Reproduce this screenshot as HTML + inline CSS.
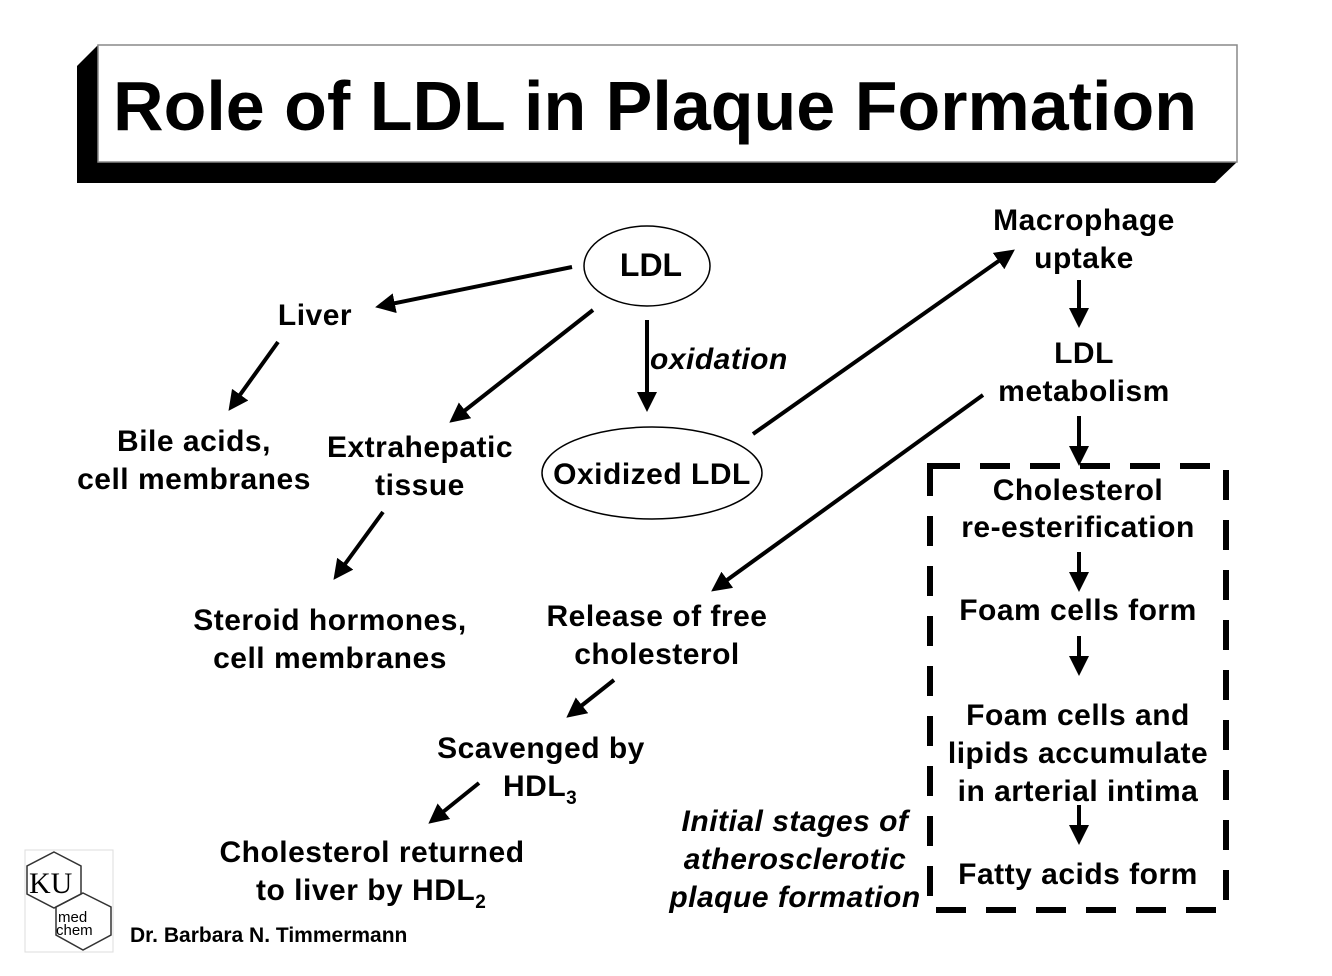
<!DOCTYPE html>
<html><head><meta charset="utf-8"><style>
html,body{margin:0;padding:0;background:#fff;}
svg{display:block;}
text{font-family:"Liberation Sans",Arial,sans-serif;font-weight:bold;fill:#000;}
</style></head><body>
<svg width="1332" height="976" viewBox="0 0 1332 976" xmlns="http://www.w3.org/2000/svg">
<defs>
<marker id="ah" markerWidth="5" markerHeight="5" refX="3.5" refY="2.5" orient="auto" markerUnits="strokeWidth">
<path d="M0,0 L5,2.5 L0,5 z" fill="#000"/>
</marker>
</defs>
<polygon points="98,45 77,66 77,183 1215,183 1237,162 98,162" fill="#000"/>
<rect x="98" y="45" width="1139" height="117" fill="#fff" stroke="#888" stroke-width="1.5"/>
<text x="113" y="130" font-size="70" textLength="1084" lengthAdjust="spacingAndGlyphs">Role of LDL in Plaque Formation</text>

<ellipse cx="647" cy="266" rx="63" ry="40" fill="none" stroke="#000" stroke-width="1.5"/>
<text x="651" y="276" font-size="32" text-anchor="middle">LDL</text>
<ellipse cx="652" cy="473" rx="110" ry="46" fill="none" stroke="#000" stroke-width="1.5"/>
<text x="652" y="484" font-size="30" text-anchor="middle" letter-spacing="0.5">Oxidized LDL</text>

<g font-size="30" text-anchor="middle" letter-spacing="0.5">
<text x="315" y="325">Liver</text>
<text x="194" y="451">Bile acids,</text>
<text x="194" y="489">cell membranes</text>
<text x="420" y="457">Extrahepatic</text>
<text x="420" y="495">tissue</text>
<text x="1084" y="230">Macrophage</text>
<text x="1084" y="268">uptake</text>
<text x="1084" y="363">LDL</text>
<text x="1084" y="401">metabolism</text>
<text x="1078" y="500">Cholesterol</text>
<text x="1078" y="537">re-esterification</text>
<text x="1078" y="620">Foam cells form</text>
<text x="1078" y="725">Foam cells and</text>
<text x="1078" y="763">lipids accumulate</text>
<text x="1078" y="801">in arterial intima</text>
<text x="1078" y="884">Fatty acids form</text>
<text x="330" y="630">Steroid hormones,</text>
<text x="330" y="668">cell membranes</text>
<text x="657" y="626">Release of free</text>
<text x="657" y="664">cholesterol</text>
<text x="541" y="758">Scavenged by</text>
<text x="372" y="862">Cholesterol returned</text>
</g>
<text x="503" y="796" font-size="30" letter-spacing="0.5">HDL<tspan font-size="19" dy="8">3</tspan></text>
<text x="256" y="900" font-size="30" letter-spacing="0.5">to liver by HDL<tspan font-size="19" dy="8">2</tspan></text>
<g font-size="30" text-anchor="middle" font-style="italic" letter-spacing="0.5">
<text x="795" y="831">Initial stages of</text>
<text x="795" y="869">atherosclerotic</text>
<text x="795" y="907">plaque formation</text>
</g>
<text x="650" y="369" font-size="30" font-style="italic" letter-spacing="0.5">oxidation</text>

<rect x="930" y="466" width="296" height="444" fill="none" stroke="#000" stroke-width="6" stroke-dasharray="30,20"/>

<g stroke="#000" stroke-width="4" marker-end="url(#ah)">
<line x1="572" y1="267" x2="381" y2="306"/>
<line x1="278" y1="342" x2="232" y2="406"/>
<line x1="593" y1="310" x2="454" y2="419"/>
<line x1="647" y1="320" x2="647" y2="406"/>
<line x1="753" y1="434" x2="1010" y2="253"/>
<line x1="1079" y1="280" x2="1079" y2="322"/>
<line x1="983" y1="395" x2="716" y2="588"/>
<line x1="1079" y1="416" x2="1079" y2="460"/>
<line x1="383" y1="512" x2="337" y2="575"/>
<line x1="1079" y1="552" x2="1079" y2="586"/>
<line x1="1079" y1="636" x2="1079" y2="670"/>
<line x1="1079" y1="805" x2="1079" y2="839"/>
<line x1="614" y1="680" x2="571" y2="714"/>
<line x1="479" y1="783" x2="433" y2="820"/>
</g>

<rect x="25" y="850" width="88" height="102" fill="#fff" stroke="#ddd" stroke-width="1"/>
<g fill="none" stroke="#333" stroke-width="1.5">
<polygon points="54,852 81,866 81,894 54,908 27,894 27,866"/>
<polygon points="83,893 111,907 111,935 83,950 56,935 56,907"/>
</g>
<text x="29" y="893" font-size="30" style="font-family:'Liberation Serif',serif;font-weight:normal">KU</text>
<text x="58" y="922" font-size="15" style="font-weight:normal">med</text>
<text x="56" y="935" font-size="15" style="font-weight:normal">chem</text>
<text x="130" y="942" font-size="21">Dr. Barbara N. Timmermann</text>
</svg>
</body></html>
